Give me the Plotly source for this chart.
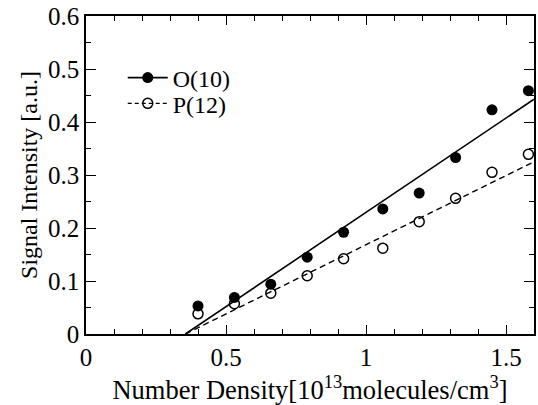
import plotly.graph_objects as go

# data
density = [0.40, 0.53, 0.66, 0.79, 0.92, 1.06, 1.19, 1.32, 1.45, 1.58]
o10 = [0.053, 0.069, 0.094, 0.145, 0.192, 0.236, 0.266, 0.333, 0.423, 0.459]
p12 = [0.038, 0.057, 0.077, 0.110, 0.142, 0.162, 0.212, 0.256, 0.305, 0.339]

# fitted lines (start, end)
fit_x = [0.355, 1.60]
fit_o10 = [0.0, 0.443]
fit_p12 = [0.0, 0.325]

x_ticks = [0, 0.5, 1, 1.5]
x_ticklabels = ["0", "0.5", "1", "1.5"]
y_ticks = [0, 0.1, 0.2, 0.3, 0.4, 0.5, 0.6]
y_ticklabels = ["0", "0.1", "0.2", "0.3", "0.4", "0.5", "0.6"]

FONT = "Liberation Serif"

fig = go.Figure()

# fit lines
fig.add_trace(go.Scatter(x=fit_x, y=fit_o10, mode="lines",
                         line=dict(color="black", width=1.6),
                         showlegend=False, hoverinfo="skip"))
fig.add_trace(go.Scatter(x=fit_x, y=fit_p12, mode="lines",
                         line=dict(color="black", width=1.4, dash="6px,4px"),
                         showlegend=False, hoverinfo="skip"))

# data points
fig.add_trace(go.Scatter(x=density, y=o10, mode="markers", name="O(10)",
                         marker=dict(symbol="circle", size=11, color="black"),
                         showlegend=False, cliponaxis=False))
fig.add_trace(go.Scatter(x=density, y=p12, mode="markers", name="P(12)",
                         marker=dict(symbol="circle-open", size=10, color="black",
                                     line=dict(width=1.5)),
                         showlegend=False, cliponaxis=False))

# legend entries (line + marker symbol), one legend box each
fig.add_trace(go.Scatter(x=[None], y=[None], mode="lines+markers", name="O(10)",
                         line=dict(color="black", width=1.6),
                         marker=dict(symbol="circle", size=11, color="black"),
                         legend="legend"))
fig.add_trace(go.Scatter(x=[None], y=[None], mode="lines+markers", name="P(12)",
                         line=dict(color="black", width=1.4, dash="4px,3px"),
                         marker=dict(symbol="circle-open", size=10, color="black",
                                     line=dict(width=1.5)),
                         legend="legend2"))

axis_common = dict(
    showline=True, linecolor="black", linewidth=1.6, mirror="allticks",
    ticks="inside", tickcolor="black", showgrid=False, zeroline=False,
    tickfont=dict(family=FONT, size=25, color="black"),
)

fig.update_xaxes(
    range=[0, 1.6], tickmode="array", tickvals=x_ticks, ticktext=x_ticklabels,
    ticklen=9, tickwidth=1.3,
    minor=dict(dtick=0.1, tick0=0, ticks="inside", ticklen=5, tickcolor="black",
               tickwidth=1.2, showgrid=False),
    title=dict(text="Number Density[10<sup>13</sup>molecules/cm<sup>3</sup>]",
               font=dict(family=FONT, size=26.5, color="black"), standoff=13),
    **axis_common)
fig.update_yaxes(
    range=[0, 0.6], tickmode="array", tickvals=y_ticks, ticktext=y_ticklabels,
    ticklen=10, tickwidth=1.3,
    minor=dict(dtick=0.05, tick0=0, ticks="inside", ticklen=5, tickcolor="black",
               tickwidth=1.2, showgrid=False),
    title=dict(text="Signal Intensity [a.u.]",
               font=dict(family=FONT, size=24, color="black"), standoff=4),
    **axis_common)

legend_common = dict(xanchor="left", yanchor="middle",
                     bgcolor="rgba(0,0,0,0)", borderwidth=0,
                     font=dict(family=FONT, size=24, color="black"),
                     itemwidth=40)

fig.update_layout(
    width=538, height=405,
    margin=dict(l=86, r=2, t=16, b=71),
    paper_bgcolor="white", plot_bgcolor="white",
    font=dict(family=FONT, color="black"),
    showlegend=True,
    legend=dict(x=0.082, y=0.805, **legend_common),
    legend2=dict(x=0.082, y=0.724, **legend_common),
)

fig.write_html("out.html",
               config={"displayModeBar": False},
               post_script="document.body.style.margin='0px';"
                           "document.body.style.overflow='hidden';")
